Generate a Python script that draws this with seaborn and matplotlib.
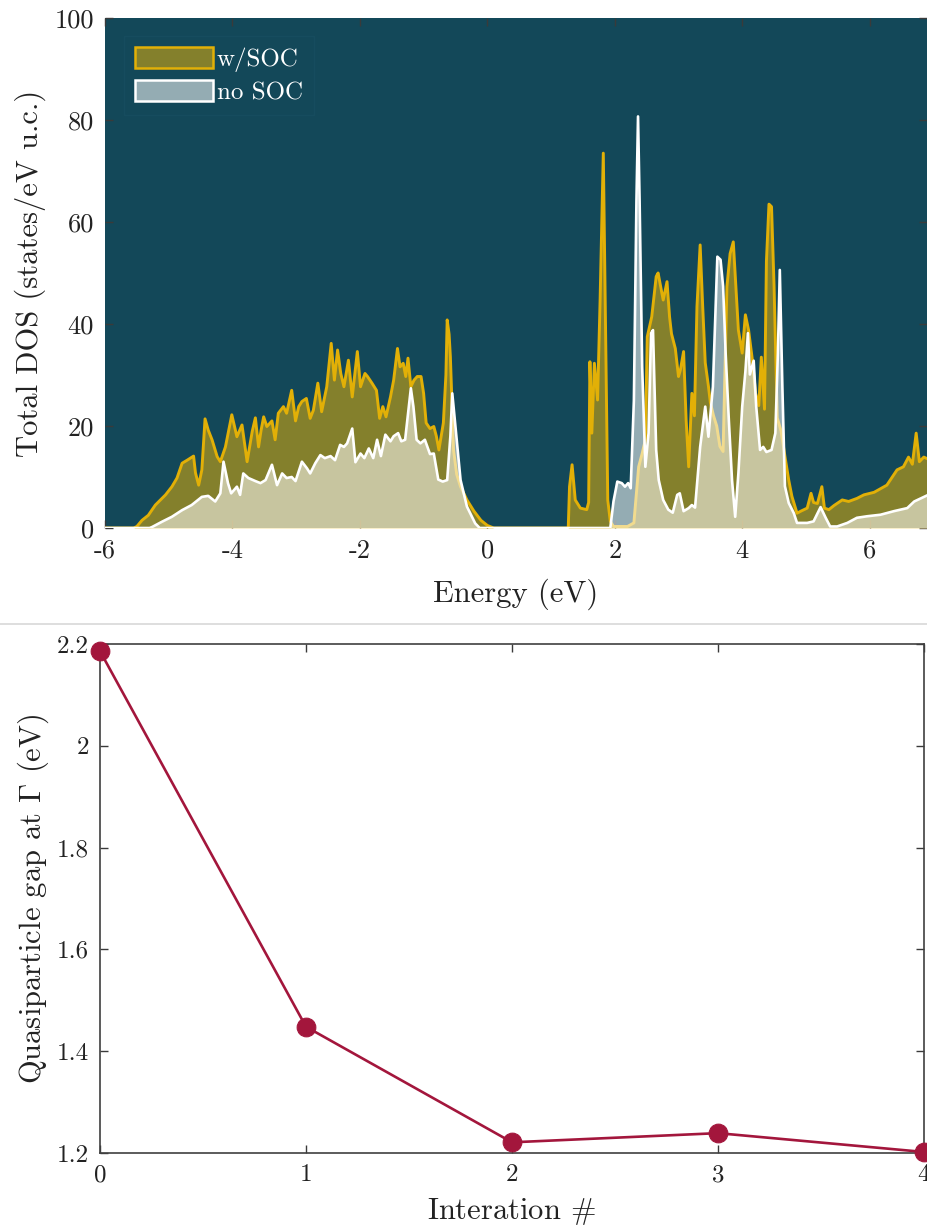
import numpy as np
import pandas as pd
import matplotlib
matplotlib.use("Agg")
import matplotlib.pyplot as plt
import seaborn as sns
from matplotlib.patches import Patch
from matplotlib.lines import Line2D
from matplotlib.colors import to_rgba

# ---------------- data ----------------
E_soc = [-6.0, -5.55, -5.50, -5.42, -5.32, -5.21, -5.13, -5.05, -4.95, -4.87, -4.79, -4.71, -4.61,
         -4.58, -4.53, -4.48, -4.43, -4.38, -4.32, -4.24, -4.19, -4.11, -4.01, -3.93, -3.85, -3.77,
         -3.69, -3.64, -3.59, -3.55, -3.51, -3.46, -3.38, -3.33, -3.28, -3.20, -3.15, -3.07, -3.01,
         -2.96, -2.91, -2.84, -2.78, -2.73, -2.66, -2.60, -2.52, -2.45, -2.40, -2.35, -2.30, -2.25,
         -2.18, -2.12, -2.04, -1.99, -1.92, -1.88, -1.81, -1.74, -1.69, -1.64, -1.59, -1.52, -1.47,
         -1.41, -1.37, -1.32, -1.28, -1.245, -1.20, -1.15, -1.10, -1.04, -1.00, -0.96, -0.90, -0.84,
         -0.80, -0.76, -0.69, -0.65, -0.63, -0.60, -0.58, -0.53, -0.48, -0.42, -0.32, -0.21, -0.10,
         0.0, 0.1, 1.27, 1.29, 1.33, 1.38, 1.46, 1.56, 1.59, 1.61, 1.64, 1.68, 1.73, 1.77, 1.82,
         1.85, 1.89, 1.93, 1.98, 2.20, 2.30, 2.375, 2.43, 2.48, 2.51, 2.58, 2.65, 2.68, 2.72, 2.76,
         2.82, 2.86, 2.89, 2.95, 3.00, 3.03, 3.08, 3.12, 3.16, 3.21, 3.25, 3.29, 3.34, 3.38, 3.42,
         3.47, 3.50, 3.55, 3.60, 3.65, 3.70, 3.76, 3.81, 3.86, 3.90, 3.94, 4.00, 4.05, 4.10, 4.16,
         4.21, 4.26, 4.30, 4.35, 4.38, 4.42, 4.46, 4.50, 4.55, 4.61, 4.68, 4.73, 4.78, 4.86, 4.92,
         5.02, 5.08, 5.12, 5.18, 5.25, 5.29, 5.36, 5.44, 5.57, 5.67, 5.80, 5.91, 6.07, 6.27, 6.43,
         6.53, 6.61, 6.67, 6.73, 6.78, 6.85, 6.92]
dos_soc = [0, 0, 0.3, 1.5, 2.5, 4.5, 5.5, 6.5, 8.1, 9.8, 12.7, 13.3, 14.1,
           10.8, 8.4, 11.4, 21.4, 19.2, 17.3, 14.0, 13.0, 15.9, 22.2, 17.9, 20.2, 13.0,
           18.9, 21.6, 15.9, 19.2, 21.8, 19.9, 21.0, 17.3, 22.5, 23.8, 22.5, 27.0, 21.0,
           23.8, 24.8, 25.4, 21.5, 23.1, 28.4, 22.8, 27.7, 36.2, 29.0, 34.9, 30.3, 27.7,
           32.9, 25.7, 34.6, 27.7, 30.3, 29.7, 28.4, 27.0, 21.5, 23.8, 21.8, 25.7, 29.0,
           35.2, 31.6, 32.3, 29.7, 33.3, 27.7, 29.0, 29.7, 29.7, 26.4, 20.6, 19.5, 19.9,
           18.0, 15.3, 20.6, 30.0, 40.8, 38.0, 33.6, 15.3, 10.5, 8.1, 5.5, 3.3, 1.5,
           0.5, 0, 0, 8.1, 12.4, 5.5, 3.9, 3.6, 5.0, 32.6, 18.6, 32.3, 25.1, 44.7, 73.5,
           44.7, 5.5, 1.3, 0.3, 0.3, 1.0, 12.0, 14.6, 17.3, 37.5, 41.4, 49.3, 50.0, 47.4, 44.7,
           48.3, 41.4, 38.1, 35.2, 29.7, 31.0, 34.6, 21.2, 12.0, 26.4, 22.0, 43.4, 55.5, 43.4, 32.4,
           27.8, 24.6, 22.0, 20.0, 16.0, 15.0, 47.3, 53.8, 56.1, 47.3, 38.8, 34.3, 41.8, 38.8, 32.9,
           26.4, 24.0, 33.5, 23.3, 52.3, 63.5, 63.0, 47.4, 21.6, 19.0, 13.3, 9.4, 6.2, 2.9, 3.3,
           3.9, 6.8, 5.0, 4.8, 8.1, 3.9, 3.6, 4.4, 5.5, 5.2, 5.8, 6.5, 7.0, 8.4, 11.4,
           12.0, 13.9, 12.5, 18.6, 13.0, 13.9, 13.5]

E_nosoc = [-6.0, -5.30, -5.26, -5.11, -4.95, -4.79, -4.64, -4.48, -4.38, -4.27, -4.19, -4.14, -4.07,
           -4.02, -3.93, -3.88, -3.83, -3.75, -3.64, -3.56, -3.48, -3.38, -3.30, -3.22, -3.15, -3.07,
           -3.01, -2.91, -2.83, -2.78, -2.70, -2.62, -2.55, -2.46, -2.39, -2.31, -2.25, -2.20, -2.12,
           -2.07, -1.99, -1.93, -1.86, -1.79, -1.73, -1.67, -1.60, -1.52, -1.47, -1.40, -1.35, -1.29,
           -1.20, -1.16, -1.11, -1.05, -0.98, -0.90, -0.84, -0.77, -0.70, -0.63, -0.58, -0.55, -0.50,
           -0.42, -0.32, -0.19, -0.12, 1.93, 1.98, 2.04, 2.11, 2.16, 2.21, 2.25, 2.30, 2.34, 2.365,
           2.39, 2.43, 2.48, 2.53, 2.57, 2.60, 2.65, 2.69, 2.76, 2.84, 2.91, 2.98, 3.02, 3.08, 3.16,
           3.21, 3.26, 3.34, 3.42, 3.47, 3.54, 3.61, 3.66, 3.70, 3.74, 3.79, 3.84, 3.89, 3.94, 4.00,
           4.05, 4.09, 4.12, 4.18, 4.22, 4.28, 4.33, 4.38, 4.46, 4.52, 4.56, 4.59, 4.63, 4.67, 4.73,
           4.81, 4.86, 5.02, 5.12, 5.23, 5.31, 5.38, 5.49, 5.65, 5.80, 5.96, 6.17, 6.38, 6.59, 6.70,
           6.80, 6.92]
dos_nosoc = [0, 0, 0.2, 1.2, 2.2, 3.5, 4.5, 6.1, 6.3, 5.2, 6.8, 13.0, 8.8,
             6.8, 8.1, 6.5, 10.7, 9.8, 9.2, 8.8, 9.4, 12.4, 8.4, 10.7, 9.8, 10.0,
             9.2, 13.0, 11.7, 10.7, 12.7, 14.3, 13.7, 14.1, 13.3, 16.3, 15.9, 16.6, 19.5,
             12.9, 14.6, 13.7, 15.6, 13.7, 17.3, 14.1, 18.3, 17.0, 18.0, 18.6, 17.0, 17.3,
             27.4, 23.8, 17.3, 16.6, 17.3, 14.5, 14.6, 9.5, 9.1, 9.4, 18.0, 26.4, 19.9,
             9.4, 4.2, 0.9, 0, 0, 5.2, 9.1, 8.8, 8.1, 8.8, 7.8, 25.0, 64.0, 80.7,
             64.0, 31.6, 12.0, 18.6, 38.2, 38.8, 15.3, 9.4, 5.5, 3.6, 3.0, 6.5, 6.8, 3.3, 3.9,
             4.5, 4.0, 15.9, 23.8, 17.9, 27.7, 53.2, 52.6, 47.4, 34.3, 21.2, 9.4, 2.2, 10.7, 23.8,
             30.7, 38.2, 30.1, 32.8, 23.8, 15.3, 15.9, 14.9, 15.3, 18.6, 34.3, 50.6, 27.8, 8.2, 4.9,
             2.9, 1.0, 1.0, 1.3, 4.1, 2.0, 0.3, 0.3, 1.0, 2.0, 2.3, 2.6, 3.3, 3.9, 5.2,
             5.8, 6.5]

iterations = [0, 1, 2, 3, 4]
qp_gap = [2.186, 1.448, 1.221, 1.239, 1.202]

dos_xticks = [-6, -4, -2, 0, 2, 4, 6]
dos_xticklabels = ["-6", "-4", "-2", "0", "2", "4", "6"]
dos_yticks = [0, 20, 40, 60, 80, 100]
dos_yticklabels = ["0", "20", "40", "60", "80", "100"]
gap_yticks = [1.2, 1.4, 1.6, 1.8, 2.0, 2.2]
gap_yticklabels = ["1.2", "1.4", "1.6", "1.8", "2", "2.2"]
gap_xticks = [0, 1, 2, 3, 4]

# ---------------- style ----------------
sns.set_theme(style="ticks")
plt.rcParams.update({
    "font.family": ["serif"],
    "font.serif": ["cmr10", "DejaVu Serif"],
    "mathtext.fontset": "cm",
    "axes.formatter.use_mathtext": True,
    "axes.unicode_minus": False,
})

TEAL = "#134859"
GOLD = "#e2b007"
CRIMSON = "#a3163c"
ALPHA = 0.55

fig = plt.figure(figsize=(9.27, 12.3), dpi=100)
fig.patch.set_facecolor("white")

# ---------------- top: DOS ----------------
ax1 = fig.add_axes([105 / 927, 1 - 528 / 1230, 822 / 927, 510 / 1230])
ax1.set_facecolor(TEAL)

df_soc = pd.DataFrame({"E": E_soc, "D": dos_soc})
df_nosoc = pd.DataFrame({"E": E_nosoc, "D": dos_nosoc})

ax1.fill_between(df_soc["E"], 0, df_soc["D"], color=GOLD, alpha=ALPHA, lw=0, zorder=1)
sns.lineplot(data=df_soc, x="E", y="D", ax=ax1, color=GOLD, lw=2.1,
             estimator=None, sort=False, zorder=2)
ax1.fill_between(df_nosoc["E"], 0, df_nosoc["D"], color="white", alpha=ALPHA, lw=0, zorder=3)
sns.lineplot(data=df_nosoc, x="E", y="D", ax=ax1, color="white", lw=1.9,
             estimator=None, sort=False, zorder=4)

ax1.set_xlim(-6, 6.9)
ax1.set_ylim(0, 100)
ax1.set_xticks(dos_xticks)
ax1.set_xticklabels(dos_xticklabels)
ax1.set_yticks(dos_yticks)
ax1.set_yticklabels(dos_yticklabels)
ax1.tick_params(direction="in", top=True, right=True, length=6, width=1.0,
                color="#3a3a3a", labelsize=19, labelcolor="#222222", pad=8)
for s in ax1.spines.values():
    s.set_visible(False)
ax1.set_xlabel("Energy (eV)", fontsize=22, color="#222222")
ax1.set_ylabel("Total DOS (states/eV u.c.)", fontsize=22, color="#222222")
ax1.xaxis.set_label_coords(0.5, -0.10)
ax1.yaxis.set_label_coords(-0.072, 0.5)

handles = [
    Patch(facecolor=to_rgba(GOLD, ALPHA), edgecolor=GOLD, linewidth=1.8, label="w/SOC"),
    Patch(facecolor=to_rgba("white", ALPHA), edgecolor="white", linewidth=1.8, label="no SOC"),
]
leg = ax1.legend(handles=handles, loc="upper left", bbox_to_anchor=(0.008, 0.99),
                 fontsize=18, handlelength=3.1, handleheight=0.95, handletextpad=0.15,
                 labelspacing=0.3, borderpad=0.45, frameon=True, fancybox=False,
                 labelcolor="white")
leg.get_frame().set_facecolor(TEAL)
leg.get_frame().set_edgecolor("#174e60")

# ---------------- bottom: QP gap ----------------
ax2 = fig.add_axes([100 / 927, 1 - 1153 / 1230, 824 / 927, 509 / 1230])
ax2.set_facecolor("white")
df_gap = pd.DataFrame({"it": iterations, "gap": qp_gap})
sns.lineplot(data=df_gap, x="it", y="gap", ax=ax2, color=CRIMSON, lw=1.9,
             marker="o", markersize=13.5, markeredgecolor=CRIMSON, clip_on=False, zorder=5)
ax2.set_xlim(0, 4)
ax2.set_ylim(1.2, 2.2)
ax2.set_xticks(gap_xticks)
ax2.set_xticklabels([str(v) for v in gap_xticks])
ax2.set_yticks(gap_yticks)
ax2.set_yticklabels(gap_yticklabels)
ax2.tick_params(direction="in", top=True, right=True, length=6, width=1.0,
                color="#3a3a3a", labelsize=18, labelcolor="#222222", pad=8)
for s in ax2.spines.values():
    s.set_color("#404040")
    s.set_linewidth(1.2)
ax2.set_xlabel(r"Interation $\#$", fontsize=22, color="#222222")
ax2.set_ylabel(r"Quasiparticle gap at $\Gamma$ (eV)", fontsize=22, color="#222222")
ax2.xaxis.set_label_coords(0.5, -0.085)
ax2.yaxis.set_label_coords(-0.06, 0.5)

# separator line between the two panels
fig.add_artist(Line2D([0, 1], [1 - 624 / 1230, 1 - 624 / 1230], transform=fig.transFigure,
                      color="#d8d8d8", lw=1.2))

fig.savefig("out.png", dpi=100)
